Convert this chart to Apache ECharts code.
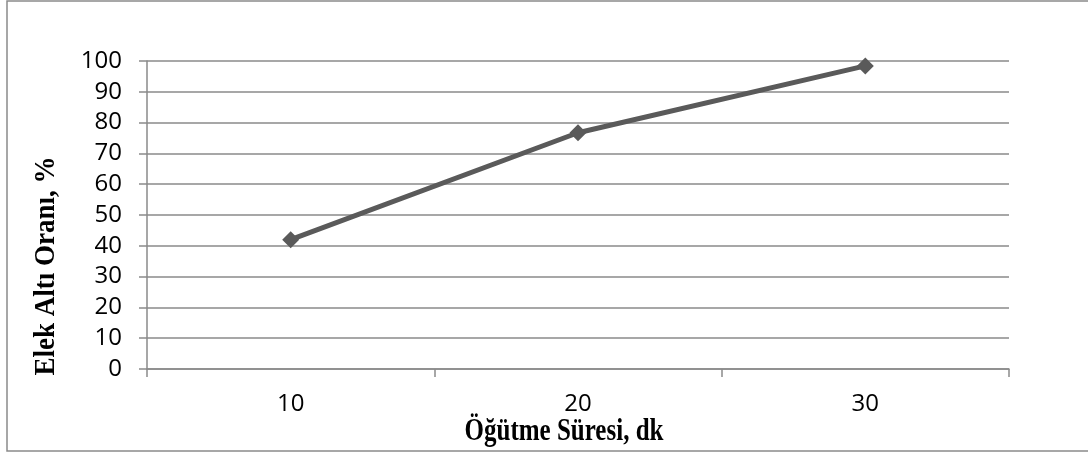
<!DOCTYPE html>
<html>
<head>
<meta charset="utf-8">
<script src="https://cdn.jsdelivr.net/npm/echarts@6/dist/echarts.min.js"></script>
<style>
html,body{margin:0;padding:0;background:#fff;}
#c{width:1088px;height:453px;}
</style>
</head>
<body>
<div id="c"></div>
<script>
const categories = ['10', '20', '30'];
const values = [42, 76.7, 98.4];
const yTicks = [0, 10, 20, 30, 40, 50, 60, 70, 80, 90, 100];
const xTitle = 'Öğütme Süresi, dk';
const yTitle = 'Elek Altı Oranı, %';

const chart = echarts.init(document.getElementById('c'), null, {renderer: 'canvas'});
const gray = '#8a8a8a';
chart.setOption({
  animation: false,
  backgroundColor: '#fff',
  graphic: [{
    type: 'rect',
    shape: {x: 7, y: 1, width: 1090, height: 450},
    style: {fill: 'none', stroke: gray, lineWidth: 1.5},
    silent: true
  }, {
    type: 'text',
    style: {
      text: xTitle, align: 'center', verticalAlign: 'middle',
      font: 'bold 25px "Liberation Serif", "Times New Roman", serif', fill: '#000'
    },
    x: 564, y: 432, scaleY: 1.28
  }, {
    type: 'text',
    style: {
      text: yTitle, align: 'center', verticalAlign: 'middle',
      font: 'bold 27px "Liberation Serif", "Times New Roman", serif', fill: '#000'
    },
    x: 46, y: 266, rotation: Math.PI / 2, scaleY: 1.1
  }],
  grid: {left: 147, right: 79, top: 61, bottom: 84, containLabel: false},
  xAxis: {
    type: 'category',
    data: categories,
    boundaryGap: true,
    axisLine: {lineStyle: {color: gray, width: 1.5}},
    axisTick: {show: true, length: 8, lineStyle: {color: gray, width: 1.5}, alignWithLabel: false},
    axisLabel: {color: '#000', fontSize: 24, fontFamily: 'Open Sans', margin: 23},
    splitLine: {show: false}
  },
  yAxis: {
    type: 'value',
    min: yTicks[0],
    max: yTicks[yTicks.length - 1],
    interval: 10,
    axisLine: {show: true, lineStyle: {color: gray, width: 1.5}},
    axisTick: {show: true, length: 8, lineStyle: {color: gray, width: 1.5}},
    axisLabel: {color: '#000', fontSize: 24, fontFamily: 'Open Sans', margin: 25},
    splitLine: {show: true, lineStyle: {color: gray, width: 1.5}}
  },
  series: [{
    type: 'line',
    data: values,
    symbol: 'diamond',
    symbolSize: 17,
    lineStyle: {color: '#5a5a5a', width: 5},
    itemStyle: {color: '#5a5a5a'}
  }]
});
</script>
</body>
</html>
